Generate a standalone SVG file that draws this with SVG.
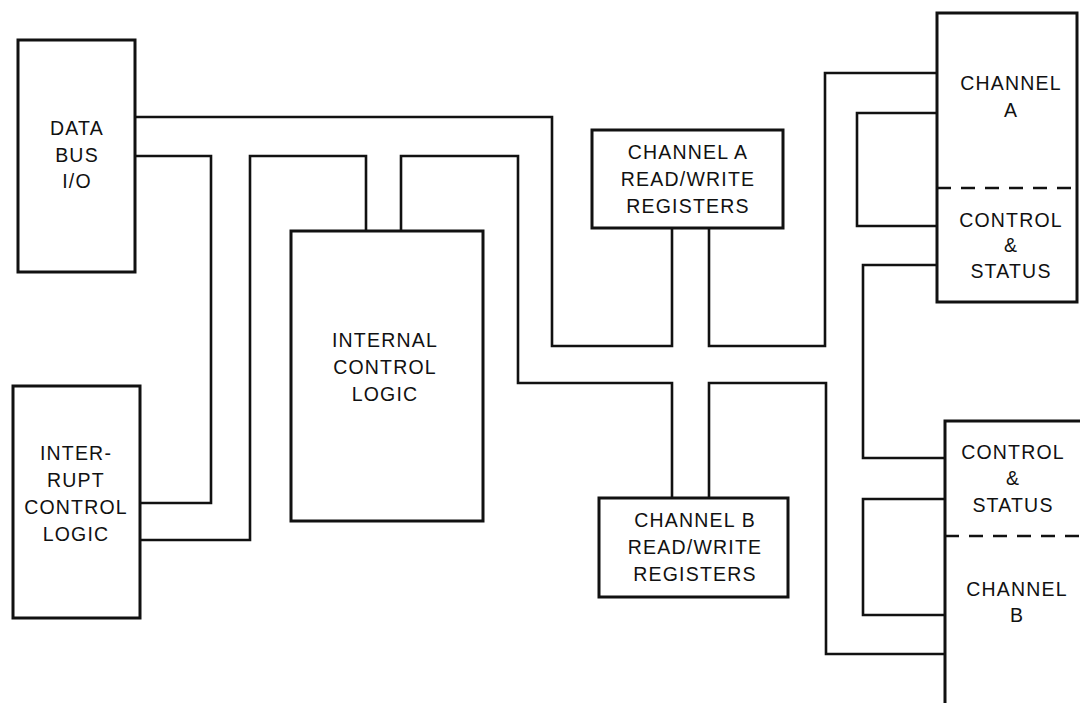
<svg xmlns="http://www.w3.org/2000/svg" width="1080" height="703" viewBox="0 0 1080 703">
<style>
.box{fill:none;stroke:#111;stroke-width:3}
.wire{fill:none;stroke:#111;stroke-width:2.6;stroke-linejoin:miter}
.dash{fill:none;stroke:#111;stroke-width:2.6;stroke-dasharray:14 10}
text{font-family:"Liberation Sans",Arial,sans-serif;font-size:19.5px;fill:#111;text-anchor:middle;letter-spacing:1.2px}
</style>
<rect width="1080" height="703" fill="#fff"/>
<g id="connectors">
<polyline class="wire" points="135,117 552,117 552,346 672,346 672,228"/>
<polyline class="wire" points="135,156 211,156 211,503 140,503"/>
<polyline class="wire" points="140,540 250,540 250,156 366,156 366,231"/>
<polyline class="wire" points="401,231 401,156 518,156 518,383 672,383 672,498"/>
<polyline class="wire" points="709,228 709,346 825,346 825,73 937,73"/>
<polyline class="wire" points="937,113 857,113 857,226 937,226"/>
<polyline class="wire" points="937,265 863,265 863,458 945,458"/>
<polyline class="wire" points="945,499 863,499 863,615 945,615"/>
<polyline class="wire" points="709,498 709,383 826,383 826,654 945,654"/>
</g>
<g id="databus">
<rect class="box" x="18" y="40" width="117" height="232"/>
<text x="77" y="135">DATA</text>
<text x="77" y="161.7">BUS</text>
<text x="77" y="188.3">I/O</text>
</g>
<g id="interrupt">
<rect class="box" x="13" y="386" width="127" height="232"/>
<text x="76" y="460">INTER-</text>
<text x="76" y="486.7">RUPT</text>
<text x="76" y="514.3">CONTROL</text>
<text x="76" y="541">LOGIC</text>
</g>
<g id="internal">
<rect class="box" x="291" y="231" width="192" height="290"/>
<text x="385" y="347">INTERNAL</text>
<text x="385" y="374">CONTROL</text>
<text x="385" y="401">LOGIC</text>
</g>
<g id="chA-regs">
<rect class="box" x="592" y="130" width="191" height="98"/>
<text x="688" y="159.3">CHANNEL A</text>
<text x="688" y="186">READ/WRITE</text>
<text x="688" y="212.7">REGISTERS</text>
</g>
<g id="chB-regs">
<rect class="box" x="599" y="498" width="189" height="99"/>
<text x="695" y="526.7">CHANNEL B</text>
<text x="695" y="554">READ/WRITE</text>
<text x="695" y="581">REGISTERS</text>
</g>
<g id="channelA">
<rect class="box" x="937" y="13" width="140" height="289"/>
<line class="dash" x1="937" y1="188" x2="1080" y2="188"/>
<text x="1011" y="90">CHANNEL</text>
<text x="1011" y="116.7">A</text>
<text x="1011" y="226.7">CONTROL</text>
<text x="1011" y="252.3">&amp;</text>
<text x="1011" y="278.3">STATUS</text>
</g>
<g id="channelB">
<polyline class="box" points="945,710 945,421 1085,421"/>
<line class="dash" x1="945" y1="536" x2="1080" y2="536"/>
<text x="1013" y="459.3">CONTROL</text>
<text x="1013" y="485">&amp;</text>
<text x="1013" y="511.7">STATUS</text>
<text x="1017" y="596">CHANNEL</text>
<text x="1017" y="622.3">B</text>
</g>
</svg>
